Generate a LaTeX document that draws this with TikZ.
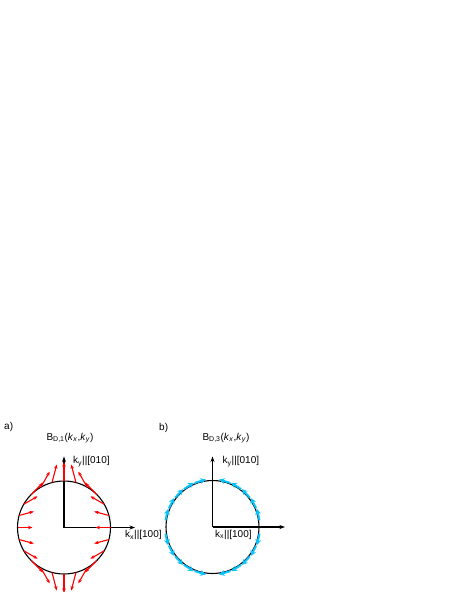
\documentclass[tikz,border=0pt]{standalone}
\usepackage{fontspec}
\setmainfont{Liberation Sans}
\usetikzlibrary{arrows.meta}
\definecolor{fieldred}{RGB}{255,0,0}
\definecolor{fieldblue}{RGB}{10,195,250}
\begin{document}
\begin{tikzpicture}[x=1pt,y=-1pt,
  font=\fontsize{10}{12}\selectfont,
  axis/.style={line width=1.2pt, -{Stealth[length=5.5pt,width=4pt]}},
  ring/.style={draw, circle, line width=1.1pt, minimum size=93pt, inner sep=0pt},
  redvec/.style={fieldred, line width=1.1pt, -{Stealth[length=4.5pt,width=3.5pt]}},
  bluevec/.style={fieldblue, line width=2pt, -{Stealth[length=5.5pt,width=6pt]}},
  lab/.style={inner sep=0pt, anchor=west},
  ttl/.style={inner sep=0pt, anchor=center}]
\useasboundingbox (0,0) rectangle (458,592);

% ---------- panel a ----------
\node[lab] (pa) at (4,427) {a)};
\node[ttl] (ta) at (70,438) {B\textsubscript{D,1}(\textit{k}\textsubscript{\textit{x}},\textit{k}\textsubscript{\textit{y}})};
\coordinate (o1) at (64,527.5);
\coordinate (y1) at (64,456.5);
\coordinate (x1) at (135,527.5);
\draw[axis] (o1) -- (y1);
\draw[axis] (o1) -- (x1);
\node[ring] (c1) at (o1) {};
\node[lab] (ky1) at (73,461.5) {k\textsubscript{y}||[010]};
\node[lab] (kx1) at (125,535) {k\textsubscript{x}||[100]};
\begin{scope}[shift={(64,527.5)}, yscale=-1]
  \foreach \a in {0,15,...,345} {
    \pgfmathsetmacro\L{15+4*sin(\a)^2}
    \draw[redvec] (\a:46.5) -- ++(180-\a:\L);
  }
\end{scope}

% ---------- panel b ----------
\node[lab] (pb) at (159,428) {b)};
\node[ttl] (tb) at (226,438) {B\textsubscript{D,3}(\textit{k}\textsubscript{\textit{x}},\textit{k}\textsubscript{\textit{y}})};
\coordinate (o2) at (212.5,527);
\coordinate (y2) at (212.5,456.5);
\coordinate (x2) at (285,527);
\draw[axis] (o2) -- (y2);
\draw[axis] (o2) -- (x2);
\node[ring] (c2) at (o2) {};
\node[lab] (ky2) at (222.5,461.5) {k\textsubscript{y}||[010]};
\node[lab] (kx2) at (215,534.5) {k\textsubscript{x}||[100]};
\begin{scope}[shift={(212.5,527)}, yscale=-1]
  \foreach \a in {15,30,...,75} {
    \draw[bluevec] (\a-7:47.5) -- (\a+7:48);
  }
  \foreach \a in {105,120,...,165} {
    \draw[bluevec] (\a+7:47.5) -- (\a-7:48);
  }
  \foreach \a in {195,210,...,255} {
    \draw[bluevec] (\a-7:47.5) -- (\a+7:48);
  }
  \foreach \a in {285,300,...,345} {
    \draw[bluevec] (\a+7:47.5) -- (\a-7:48);
  }
\end{scope}
\end{tikzpicture}
\end{document}
